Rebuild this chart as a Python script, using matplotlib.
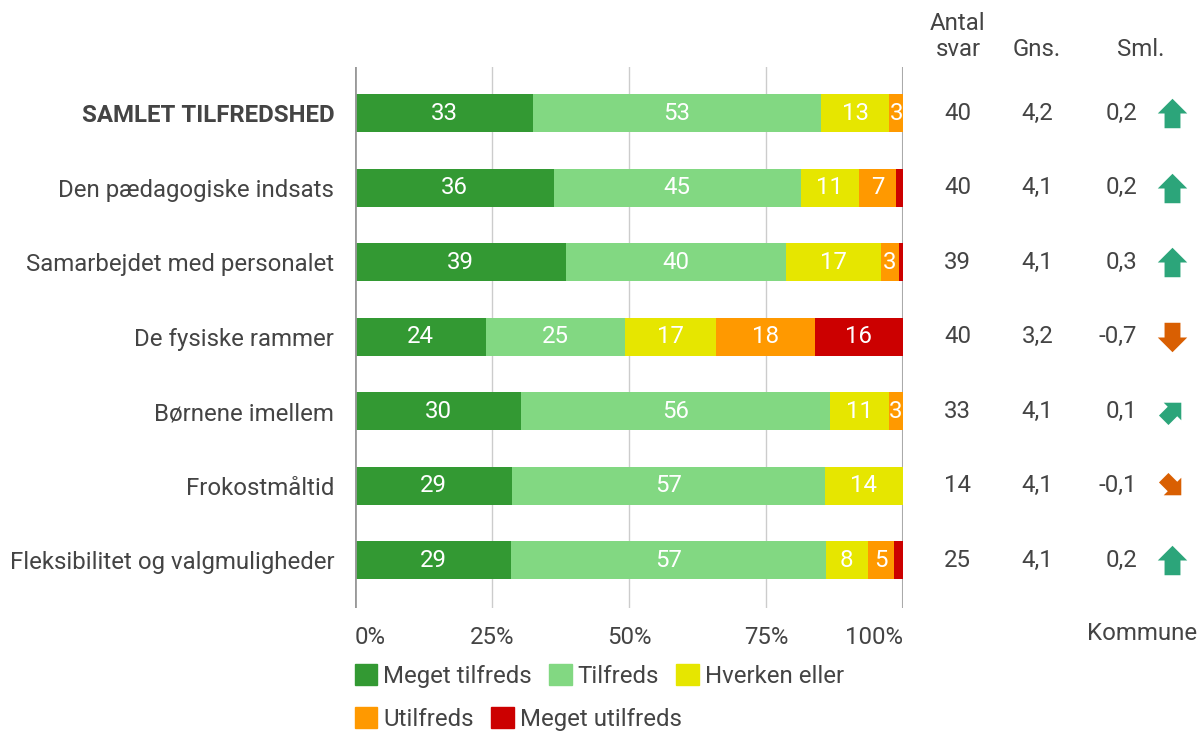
import numpy as np
import matplotlib.pyplot as plt
from matplotlib.patches import Patch

plt.rcParams['font.family'] = ['Roboto', 'DejaVu Sans']

categories = ["SAMLET TILFREDSHED", "Den pædagogiske indsats", "Samarbejdet med personalet",
              "De fysiske rammer", "Børnene imellem", "Frokostmåltid",
              "Fleksibilitet og valgmuligheder"]
levels = ["Meget tilfreds", "Tilfreds", "Hverken eller", "Utilfreds", "Meget utilfreds"]
colors = ["#339933", "#82d882", "#e6e600", "#ff9900", "#cc0000"]

# percent per answer level (rows = categories)
meget_tilfreds = [32.5, 36.3, 38.5, 23.9, 30.3, 28.6, 28.5]
tilfreds = [52.5, 45.0, 40.1, 25.4, 56.3, 57.1, 57.4]
hverken = [12.5, 10.6, 17.4, 16.6, 10.8, 14.3, 7.7]
utilfreds = [2.5, 6.9, 3.3, 18.0, 2.6, 0.0, 4.7]
meget_utilfreds = [0.0, 1.2, 0.7, 16.1, 0.0, 0.0, 1.7]

antal_svar = [40, 40, 39, 40, 33, 14, 25]
gns = ["4,2", "4,1", "4,1", "3,2", "4,1", "4,1", "4,1"]
sml = ["0,2", "0,2", "0,3", "-0,7", "0,1", "-0,1", "0,2"]
arrow_dir = [90, 90, 90, -90, 45, -45, 90]  # angle of the trend arrow

series = [meget_tilfreds, tilfreds, hverken, utilfreds, meget_utilfreds]
text_col = "#444444"
fs = 17.3

fig = plt.figure(figsize=(11.98, 7.33), dpi=100)
ax = fig.add_axes([355 / 1198, 1 - 608 / 733, 548 / 1198, 541 / 733])

y = np.arange(len(categories))
left = np.zeros(len(categories))
for vals, col in zip(series, colors):
    vals = np.array(vals)
    ax.barh(y, vals, left=left, height=0.51, color=col, zorder=2)
    for yi, (l, v) in enumerate(zip(left, vals)):
        if v >= 2:
            ax.text(l + v / 2, yi, f"{int(v + 0.5)}", ha="center", va="center",
                    color="white", fontsize=fs, zorder=3)
    left += vals

ax.set_xlim(0, 100)
ax.set_ylim(len(categories) - 1 + 0.64, -0.62)
for x in [25, 50, 75]:
    ax.axvline(x, color="#cccccc", lw=1, zorder=1)
ax.axvline(0, color="#999999", lw=2, zorder=3)
ax.axvline(100, color="#aaaaaa", lw=1.5, zorder=1)
for s in ax.spines.values():
    s.set_visible(False)
ax.set_xticks([0, 25, 50, 75, 100])
ax.set_xticklabels(["0%", "25%", "50%", "75%", "100%"])
ax.tick_params(axis="x", length=0, pad=13, labelsize=fs, labelcolor=text_col)
xt = ax.get_xticklabels()
xt[0].set_ha("left")
xt[-1].set_ha("right")
ax.set_yticks(y)
ax.set_yticklabels(categories)
ax.tick_params(axis="y", length=0, pad=15, labelsize=fs, labelcolor=text_col)
ax.get_yticklabels()[0].set_fontweight("bold")

# right-hand columns
tr = ax.get_yaxis_transform()
for yi in y:
    ax.text(1.1, yi, str(antal_svar[yi]), transform=tr, ha="center", va="center",
            fontsize=fs, color=text_col, clip_on=False)
    ax.text(1.245, yi, gns[yi], transform=tr, ha="center", va="center",
            fontsize=fs, color=text_col, clip_on=False)
    ax.text(1.427, yi, sml[yi], transform=tr, ha="right", va="center",
            fontsize=fs, color=text_col, clip_on=False)

# block arrow marker pointing right, rotated per row
base = np.array([[-0.5, -0.27], [0.0, -0.27], [0.0, -0.5], [0.5, 0.0],
                 [0.0, 0.5], [0.0, 0.27], [-0.5, 0.27], [-0.5, -0.27]])
for yi, ang in enumerate(arrow_dir):
    a = np.deg2rad(ang)
    rot = np.array([[np.cos(a), -np.sin(a)], [np.sin(a), np.cos(a)]])
    verts = base @ rot.T
    col = "#2ca57a" if ang > 0 else "#d95f02"
    ax.scatter([1.49], [yi], transform=tr, marker=verts, s=450 if ang % 90 == 0 else 380,
               color=col, clip_on=False, zorder=4, linewidths=0)

fig.text(958 / 1198, 1 - 23 / 733, "Antal", ha="center", va="center", fontsize=fs, color=text_col)
fig.text(958 / 1198, 1 - 50 / 733, "svar", ha="center", va="center", fontsize=fs, color=text_col)
fig.text(1037 / 1198, 1 - 50 / 733, "Gns.", ha="center", va="center", fontsize=fs, color=text_col)
fig.text(1141 / 1198, 1 - 50 / 733, "Sml.", ha="center", va="center", fontsize=fs, color=text_col)
fig.text(1142 / 1198, 1 - 634 / 733, "Kommune", ha="center", va="center", fontsize=fs, color=text_col)

handles = [Patch(facecolor=c, edgecolor=c, label=l) for c, l in zip(colors, levels)]
leg_kw = dict(frameon=False, fontsize=fs, handlelength=0.95, handleheight=0.95,
              handletextpad=0.25, columnspacing=0.7, labelcolor=text_col, borderaxespad=0)
fig.legend(handles=handles[:3], ncol=3, loc="center left",
           bbox_to_anchor=(345 / 1198, 1 - 676 / 733), **leg_kw)
fig.legend(handles=handles[3:], ncol=2, loc="center left",
           bbox_to_anchor=(345 / 1198, 1 - 719 / 733), **leg_kw)

fig.savefig("out.png", dpi=100)
